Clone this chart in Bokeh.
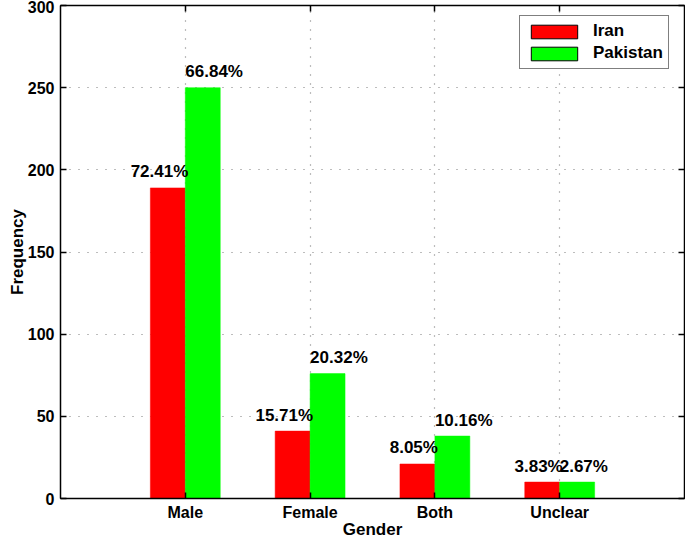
from bokeh.plotting import figure
from bokeh.models import Range1d, FixedTicker, LinearAxis
from bokeh.transform import dodge
from bokeh.core.properties import value
from bokeh.embed import file_html
from bokeh.resources import INLINE

categories = ["Male", "Female", "Both", "Unclear"]
iran = [189, 41, 21, 10]
pakistan = [250, 76, 38, 10]
y_ticks = [0, 50, 100, 150, 200, 250, 300]

cat_pos = list(range(1, len(categories) + 1))
iran_total = sum(iran)
pak_total = sum(pakistan)
iran_labels = [f"{v / iran_total * 100:.2f}%" for v in iran]
pak_labels = [f"{v / pak_total * 100:.2f}%" for v in pakistan]

FONT = "Liberation Sans"
BAR_W = 0.28

p = figure(width=685, height=541, output_backend="svg", toolbar_location=None,
           x_range=Range1d(0, len(categories) + 1), y_range=Range1d(0, 300),
           min_border_left=60, min_border_right=1, min_border_top=5, min_border_bottom=43)
p.background_fill_color = "white"
p.border_fill_color = "white"
p.outline_line_color = "black"
p.outline_line_width = 1

src = dict(x=cat_pos, iran=iran, pakistan=pakistan, il=iran_labels, pl=pak_labels)

p.vbar(x=dodge("x", -BAR_W / 2, range=p.x_range), top="iran", width=BAR_W, source=src,
       fill_color="#FF0000", line_color="#FF0000", line_width=0.5)
p.vbar(x=dodge("x", BAR_W / 2, range=p.x_range), top="pakistan", width=BAR_W, source=src,
       fill_color="#00FF00", line_color="#00FF00", line_width=0.5)

# legend proxies: muted (invisible on the plot), drawn only in the legend
leg_iran = p.vbar(x=dodge("x", -BAR_W / 2, range=p.x_range), top="iran", width=BAR_W, source=src,
                  fill_color="#FF0000", line_color="black", line_width=1,
                  muted_alpha=0, legend_label="Iran")
leg_pak = p.vbar(x=dodge("x", BAR_W / 2, range=p.x_range), top="pakistan", width=BAR_W, source=src,
                 fill_color="#00FF00", line_color="black", line_width=1,
                 muted_alpha=0, legend_label="Pakistan")
leg_iran.muted = True
leg_pak.muted = True

p.text(x="x", y="iran", text="il", source=src, text_align="right", text_baseline="alphabetic",
       x_offset=3, y_offset=-16, text_font=value(FONT), text_font_style="bold",
       text_font_size="17px", text_color="black")
p.text(x="x", y="pakistan", text="pl", source=src, text_align="left", text_baseline="alphabetic",
       x_offset=0, y_offset=-16, text_font=value(FONT), text_font_style="bold",
       text_font_size="17px", text_color="black")

# axes
def style_axis(ax):
    ax.axis_line_color = "black"
    ax.axis_line_width = 1.5
    ax.major_tick_line_color = "black"
    ax.major_tick_line_width = 1.5
    ax.major_tick_in = 6
    ax.major_tick_out = 0
    ax.minor_tick_in = 0
    ax.minor_tick_out = 0
    ax.major_label_text_font = FONT
    ax.major_label_text_font_style = "bold"
    ax.major_label_text_font_size = "16px"
    ax.major_label_text_color = "black"
    ax.axis_label_text_font = FONT
    ax.axis_label_text_font_style = "bold"
    ax.axis_label_text_font_size = "17px"
    ax.axis_label_text_color = "black"

xa = p.xaxis[0]
style_axis(xa)
xa.ticker = FixedTicker(ticks=cat_pos)
xa.major_label_overrides = {c: n for c, n in zip(cat_pos, categories)}
xa.axis_label = "Gender"
xa.major_label_standoff = 5
xa.axis_label_standoff = -4
xa.axis_label_text_baseline = "top"

ya = p.yaxis[0]
style_axis(ya)
ya.ticker = FixedTicker(ticks=y_ticks)
ya.axis_label = "Frequency"
ya.major_label_standoff = 6
ya.axis_label_standoff = -2
ya.axis_label_text_baseline = "bottom"

top_ax = LinearAxis(ticker=FixedTicker(ticks=cat_pos))
style_axis(top_ax)
top_ax.major_label_overrides = {c: "" for c in cat_pos}
top_ax.major_label_standoff = 0
p.add_layout(top_ax, "above")

right_ax = LinearAxis(ticker=FixedTicker(ticks=y_ticks))
style_axis(right_ax)
right_ax.major_label_overrides = {t: "" for t in y_ticks}
right_ax.major_label_standoff = 0
p.add_layout(right_ax, "right")

# grid
p.xgrid.ticker = FixedTicker(ticks=cat_pos)
p.ygrid.ticker = FixedTicker(ticks=y_ticks)
for g in (p.xgrid, p.ygrid):
    g.grid_line_color = "#7a7a7a"
    g.grid_line_dash = "1 8"
    g.grid_line_width = 1.2

# legend
lg = p.legend[0]
lg.location = (459, 429)
lg.padding = 5
lg.spacing = 2
lg.glyph_width = 58
lg.glyph_height = 17
lg.label_standoff = 10
lg.label_text_font = FONT
lg.label_text_font_style = "bold"
lg.label_text_font_size = "17px"
lg.label_text_color = "black"
lg.border_line_color = "black"
lg.border_line_width = 1
lg.background_fill_color = "white"
lg.background_fill_alpha = 1

open("out.html", "w").write(file_html(p, INLINE))
